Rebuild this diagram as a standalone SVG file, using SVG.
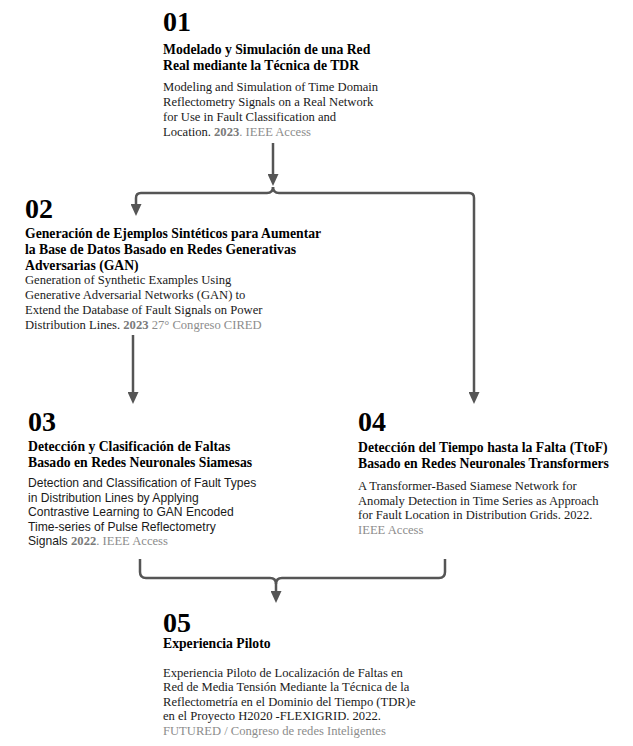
<svg xmlns="http://www.w3.org/2000/svg" width="633" height="746" viewBox="0 0 633 746">
<style>
.num{font-family:"Liberation Serif","Times New Roman",serif;font-weight:bold;font-size:28px;fill:#000}
.hd{font-family:"Liberation Serif","Times New Roman",serif;font-weight:bold;font-size:13.7px;fill:#000}
.bd{font-family:"Liberation Serif","Times New Roman",serif;font-size:12.6px;fill:#1a1a1a}
.bs{font-family:"Liberation Sans",Arial,sans-serif;font-size:12.1px;fill:#1a1a1a}
.g{fill:#8c8c8c}
.gb{fill:#7a7a7a;font-weight:bold}
.gs{font-family:"Liberation Serif","Times New Roman",serif;font-size:12.6px}
.cn{fill:none;stroke:#555;stroke-width:2.5}
</style>
<defs>
<marker id="ah" markerUnits="userSpaceOnUse" viewBox="0 0 12 11" refX="4" refY="5.5" markerWidth="12" markerHeight="11" orient="auto">
<path d="M0,0 L12,5.5 L0,11 z" fill="#555"/>
</marker>
</defs>
<g id="connectors">
<path class="cn" d="M273,143 V178" marker-end="url(#ah)"/>
<path class="cn" d="M273,187 Q273,193 267,193 H141 Q136,193 136,198 V208" marker-end="url(#ah)"/>
<path class="cn" d="M273,187 Q273,193 279,193 H469 Q474,193 474,198 V396" marker-end="url(#ah)"/>
<path class="cn" d="M133,335 V396" marker-end="url(#ah)"/>
<path class="cn" d="M140,559 V572 Q140,578 146,578 H270 Q276,578 276,584 V595" marker-end="url(#ah)"/>
<path class="cn" d="M445,559 V572 Q445,578 439,578 H282 Q276,578 276,584"/>
</g>
<g id="node01">
<text class="num" x="163" y="31">01</text>
<text class="hd" x="163" y="54">Modelado y Simulación de una Red</text>
<text class="hd" x="163" y="70">Real mediante la Técnica de TDR</text>
<text class="bd" x="163" y="91">Modeling and Simulation of Time Domain</text>
<text class="bd" x="163" y="106">Reflectometry Signals on a Real Network</text>
<text class="bd" x="163" y="121">for Use in Fault Classification and</text>
<text class="bd" x="163" y="136">Location. <tspan class="gb">2023</tspan><tspan class="g">. IEEE Access</tspan></text>
</g>
<g id="node02">
<text class="num" x="25" y="218">02</text>
<text class="hd" x="25" y="238">Generación de Ejemplos Sintéticos para Aumentar</text>
<text class="hd" x="25" y="254">la Base de Datos Basado en Redes Generativas</text>
<text class="hd" x="25" y="270">Adversarias (GAN)</text>
<text class="bd" x="25" y="284">Generation of Synthetic Examples Using</text>
<text class="bd" x="25" y="299">Generative Adversarial Networks (GAN) to</text>
<text class="bd" x="25" y="314">Extend the Database of Fault Signals on Power</text>
<text class="bd" x="25" y="329">Distribution Lines. <tspan class="gb">2023</tspan><tspan class="g"> 27° Congreso CIRED</tspan></text>
</g>
<g id="node03">
<text class="num" x="28" y="431">03</text>
<text class="hd" x="28" y="451">Detección y Clasificación de Faltas</text>
<text class="hd" x="28" y="467">Basado en Redes Neuronales Siamesas</text>
<text class="bs" x="28" y="487">Detection and Classification of Fault Types</text>
<text class="bs" x="28" y="501.6">in Distribution Lines by Applying</text>
<text class="bs" x="28" y="516.2">Contrastive Learning to GAN Encoded</text>
<text class="bs" x="28" y="530.8">Time-series of Pulse Reflectometry</text>
<text class="bs" x="28" y="545.4">Signals <tspan class="gs gb">2022</tspan><tspan class="gs g">. IEEE Access</tspan></text>
</g>
<g id="node04">
<text class="num" x="358" y="431">04</text>
<text class="hd" x="358" y="452">Detección del Tiempo hasta la Falta (TtoF)</text>
<text class="hd" x="358" y="468">Basado en Redes Neuronales Transformers</text>
<text class="bd" x="358" y="490">A Transformer-Based Siamese Network for</text>
<text class="bd" x="358" y="504.6">Anomaly Detection in Time Series as Approach</text>
<text class="bd" x="358" y="519.2">for Fault Location in Distribution Grids. 2022.</text>
<text class="bd g" x="358" y="533.8">IEEE Access</text>
</g>
<g id="node05">
<text class="num" x="163" y="632">05</text>
<text class="hd" x="163" y="648">Experiencia Piloto</text>
<text class="bd" x="163" y="676.5">Experiencia Piloto de Localización de Faltas en</text>
<text class="bd" x="163" y="691">Red de Media Tensión Mediante la Técnica de la</text>
<text class="bd" x="163" y="705.6">Reflectometría en el Dominio del Tiempo (TDR)e</text>
<text class="bd" x="163" y="720.2">en el Proyecto H2020 -FLEXIGRID. 2022.</text>
<text class="bd g" x="163" y="734.8">FUTURED / Congreso de redes Inteligentes</text>
</g>
</svg>
